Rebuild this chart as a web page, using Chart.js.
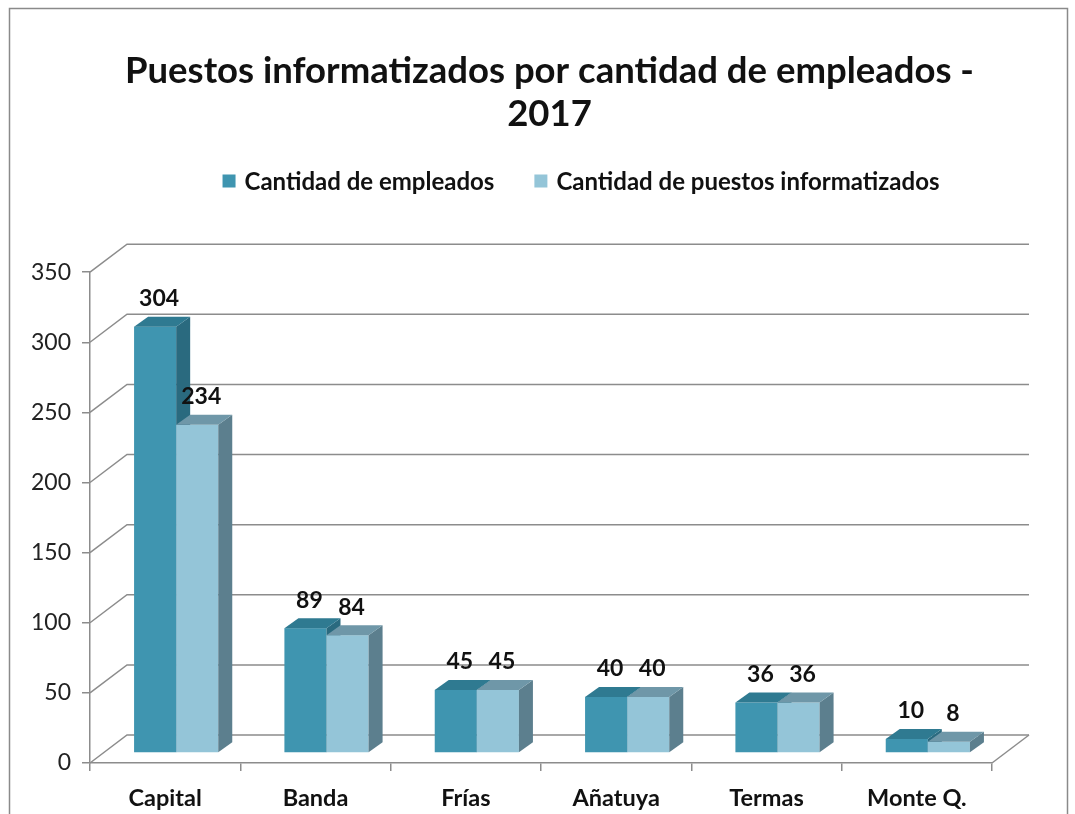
<!DOCTYPE html>
<html>
<head>
<meta charset="utf-8">
<script src="https://cdn.jsdelivr.net/npm/chart.js@4/dist/chart.umd.min.js"></script>
<style>
  html, body { margin: 0; padding: 0; background: #fff; }
</style>
</head>
<body>
<canvas id="myChart" width="1075" height="814"></canvas>
<script>
const categories = ["Capital", "Banda", "Frías", "Añatuya", "Termas", "Monte Q."];
const empleados = [304, 89, 45, 40, 36, 10];
const puestos = [234, 84, 45, 40, 36, 8];
const seriesNames = ["Cantidad de empleados", "Cantidad de puestos informatizados"];
const titleLines = ["Puestos informatizados por cantidad de empleados -", "2017"];

// colours: front, side, top
const darkBar = ["#3f95b0", "#2a6a7f", "#2f7a91"];
const lightBar = ["#94c5d8", "#5c7f8e", "#6f97a8"];
const gridColor = "#8c8c8c";

// 3D look
const WALL_DX = 37, WALL_DY = -28;
const SHIFT_X = 11, SHIFT_Y = -10;
const BAR_DX = 14, BAR_DY = -10;

const threeD = {
  id: "threeD",
  beforeDraw(chart) {
    const { ctx, chartArea: { left, right, bottom }, scales: { y } } = chart;
    ctx.save();
    ctx.fillStyle = "#fff";
    ctx.fillRect(0, 0, chart.width, chart.height);
    // outer frame
    ctx.strokeStyle = "#8a8a8a";
    ctx.lineWidth = 1.5;
    ctx.strokeRect(9.5, 8.5, 1058, 830);
    // walls
    ctx.strokeStyle = gridColor;
    ctx.lineWidth = 1.5;
    y.ticks.forEach(t => {
      const py = y.getPixelForValue(t.value);
      ctx.beginPath();
      ctx.moveTo(left, py);
      ctx.lineTo(left + WALL_DX, py + WALL_DY);
      ctx.lineTo(right + WALL_DX, py + WALL_DY);
      ctx.stroke();
    });
    ctx.beginPath();
    ctx.moveTo(right, bottom);
    ctx.lineTo(right + WALL_DX, bottom + WALL_DY);
    ctx.stroke();
    ctx.restore();
  },
  beforeDatasetsDraw(chart) {
    const { ctx } = chart;
    const colors = [darkBar, lightBar];
    ctx.save();
    categories.forEach((c, i) => {
      [0, 1].forEach(d => {
        const el = chart.getDatasetMeta(d).data[i];
        const w = el.width;
        const sx = el.x - w / 2 + SHIFT_X;
        const sy = el.y + SHIFT_Y;
        const sb = el.base + SHIFT_Y;
        const col = colors[d];
        ctx.fillStyle = col[0];
        ctx.fillRect(sx, sy, w, sb - sy);
        ctx.fillStyle = col[1];
        ctx.beginPath();
        ctx.moveTo(sx + w, sy);
        ctx.lineTo(sx + w + BAR_DX, sy + BAR_DY);
        ctx.lineTo(sx + w + BAR_DX, sb + BAR_DY);
        ctx.lineTo(sx + w, sb);
        ctx.closePath();
        ctx.fill();
        ctx.fillStyle = col[2];
        ctx.beginPath();
        ctx.moveTo(sx, sy);
        ctx.lineTo(sx + BAR_DX, sy + BAR_DY);
        ctx.lineTo(sx + w + BAR_DX, sy + BAR_DY);
        ctx.lineTo(sx + w, sy);
        ctx.closePath();
        ctx.fill();
      });
    });
    ctx.restore();
    return false;
  },
  afterDraw(chart) {
    const { ctx } = chart;
    ctx.save();
    // value labels
    ctx.font = "bold 23px Lato";
    ctx.fillStyle = "#111";
    ctx.textAlign = "center";
    ctx.textBaseline = "middle";
    [0, 1].forEach(d => {
      chart.getDatasetMeta(d).data.forEach((el, i) => {
        const v = chart.data.datasets[d].data[i];
        ctx.fillText(v, el.x + SHIFT_X + 4, el.y + SHIFT_Y - 28);
      });
    });
    // legend
    ctx.font = "bold 24px Lato";
    ctx.textAlign = "left";
    const box = 13, gap = 9, itemGap = 40;
    const widths = seriesNames.map(n => ctx.measureText(n).width);
    const total = widths[0] + widths[1] + 2 * (box + gap) + itemGap;
    let lx = 581 - total / 2;
    const ly = 181;
    seriesNames.forEach((n, k) => {
      ctx.fillStyle = k === 0 ? darkBar[0] : lightBar[0];
      ctx.fillRect(lx, ly - box / 2, box, box);
      ctx.fillStyle = "#111";
      ctx.fillText(n, lx + box + gap, ly + 1);
      lx += box + gap + widths[k] + itemGap;
    });
    ctx.restore();
  }
};

const chartCtx = document.getElementById("myChart").getContext("2d");
const chart = new Chart(chartCtx, {
  type: "bar",
  data: {
    labels: categories,
    datasets: [
      { label: seriesNames[0], data: empleados, backgroundColor: darkBar[0] },
      { label: seriesNames[1], data: puestos, backgroundColor: lightBar[0] }
    ]
  },
  options: {
    responsive: false,
    animation: false,
    layout: { padding: { left: 24, right: 0, top: 0, bottom: 0 } },
    datasets: { bar: { barPercentage: 1, categoryPercentage: 0.56 } },
    plugins: {
      legend: { display: false },
      tooltip: { enabled: false },
      title: {
        display: true,
        text: titleLines,
        color: "#111",
        font: { family: "Lato", size: 36.5, weight: "bold", lineHeight: 1.18 },
        padding: { top: 50, bottom: 136 }
      }
    },
    scales: {
      x: {
        grid: { drawOnChartArea: false, drawTicks: true, tickLength: 8, color: gridColor, lineWidth: 1.5, offset: true },
        border: { display: true, color: gridColor, width: 1.5 },
        ticks: { color: "#111", padding: 13, font: { family: "Lato", size: 23.5, weight: "bold" } },
        afterFit(scale) { scale.height = 51; }
      },
      y: {
        min: 0,
        max: 350,
        ticks: { stepSize: 50, color: "#222", padding: 11, font: { family: "Lato", size: 23 } },
        grid: { drawOnChartArea: false, drawTicks: true, tickLength: 8, color: gridColor, lineWidth: 1.5 },
        border: { display: true, color: gridColor, width: 1.5 },
        afterFit(scale) { scale.width = 66; }
      },
      yRight: {
        position: "right",
        display: true,
        grid: { display: false },
        border: { display: false },
        ticks: { display: false },
        afterFit(scale) { scale.width = 83; }
      }
    }
  },
  plugins: [threeD]
});
</script>
</body>
</html>
